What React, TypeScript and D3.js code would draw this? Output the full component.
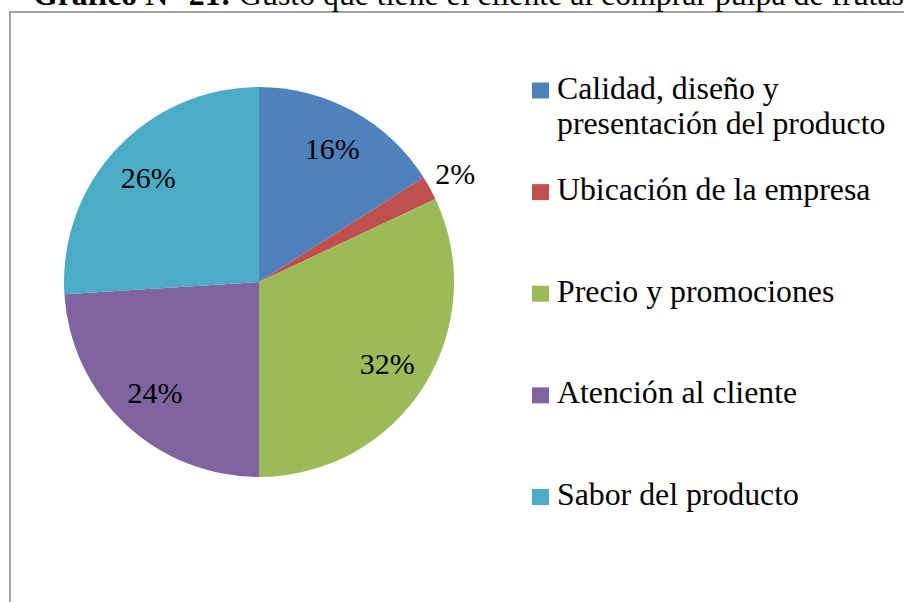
import React, { useEffect, useRef } from 'react';
import * as d3 from 'd3';

const categories = [
  'Calidad, diseño y presentación del producto',
  'Ubicación de la empresa',
  'Precio y promociones',
  'Atención al cliente',
  'Sabor del producto',
];
const legendLines = [
  ['Calidad, diseño y', 'presentación del producto'],
  ['Ubicación de la empresa'],
  ['Precio y promociones'],
  ['Atención al cliente'],
  ['Sabor del producto'],
];
const values = [16, 2, 32, 24, 26];
const colors = ['#4F81BD', '#C0504D', '#9BBB59', '#8064A2', '#4BACC6'];

const titleBold = 'Gráfico N° 21:';
const titleRest = ' Gusto que tiene el cliente al comprar pulpa de frutas';

function App() {
  const ref = useRef<SVGSVGElement | null>(null);
  const width = 904;
  const height = 602;
  const font = '"Liberation Serif", "Times New Roman", serif';

  useEffect(() => {
    const svg = d3.select(ref.current);
    svg.selectAll('*').remove();

    svg.append('rect')
      .attr('width', width)
      .attr('height', height)
      .attr('fill', '#fff');

    // chart area frame, runs off the right and bottom edges
    svg.append('rect')
      .attr('x', 10)
      .attr('y', 12)
      .attr('width', 1000)
      .attr('height', 700)
      .attr('fill', 'none')
      .attr('stroke', '#868686')
      .attr('stroke-width', 1.5);

    const title = svg.append('text')
      .attr('x', 33)
      .attr('y', 4.5)
      .attr('font-family', font)
      .attr('font-size', 31.8)
      .attr('fill', '#000');
    title.append('tspan').attr('font-weight', 'bold').text(titleBold);
    title.append('tspan').text(titleRest);

    const cx = 259;
    const cy = 282;
    const r = 195;

    const pie = d3.pie<number>().sort(null).value(d => d);
    const arcs = pie(values);
    const arc = d3.arc<d3.PieArcDatum<number>>().innerRadius(0).outerRadius(r);
    const inLabel = d3.arc<d3.PieArcDatum<number>>().innerRadius(304).outerRadius(0);
    const outLabel = d3.arc<d3.PieArcDatum<number>>().innerRadius(448).outerRadius(0);

    const g = svg.append('g').attr('transform', `translate(${cx},${cy})`);

    g.selectAll('path')
      .data(arcs)
      .enter().append('path')
      .attr('d', arc)
      .attr('fill', (d, i) => colors[i]);

    const total = d3.sum(values);
    g.selectAll('text.lbl')
      .data(arcs)
      .enter().append('text')
      .attr('class', 'lbl')
      .attr('transform', d => {
        const [x, y] = (d.value / total < 0.05 ? outLabel : inLabel).centroid(d);
        return `translate(${x},${y})`;
      })
      .attr('dy', '0.34em')
      .attr('text-anchor', 'middle')
      .attr('font-family', font)
      .attr('font-size', 30)
      .attr('fill', '#000')
      .text(d => `${Math.round((d.value / total) * 100)}%`);

    const rowY = d3.scaleLinear().domain([0, categories.length - 1]).range([98.5, 505]);

    const legend = svg.append('g')
      .selectAll('g')
      .data(categories)
      .enter().append('g')
      .attr('transform', (d, i) => `translate(0,${rowY(i)})`);

    legend.append('rect')
      .attr('x', 532)
      .attr('y', -16)
      .attr('width', 17)
      .attr('height', 16)
      .attr('fill', (d, i) => colors[i]);

    legend.append('text')
      .attr('x', 557)
      .attr('font-family', font)
      .attr('font-size', 31.8)
      .attr('fill', '#000')
      .each(function (d, i) {
        const t = d3.select(this);
        legendLines[i].forEach((line, j) => {
          t.append('tspan').attr('x', 557).attr('y', j * 35).text(line);
        });
      });
  }, []);

  return (
    <svg
      ref={ref}
      width={width}
      height={height}
      style={{ position: 'absolute', left: 0, top: 0, display: 'block' }}
    />
  );
}

export default App;
